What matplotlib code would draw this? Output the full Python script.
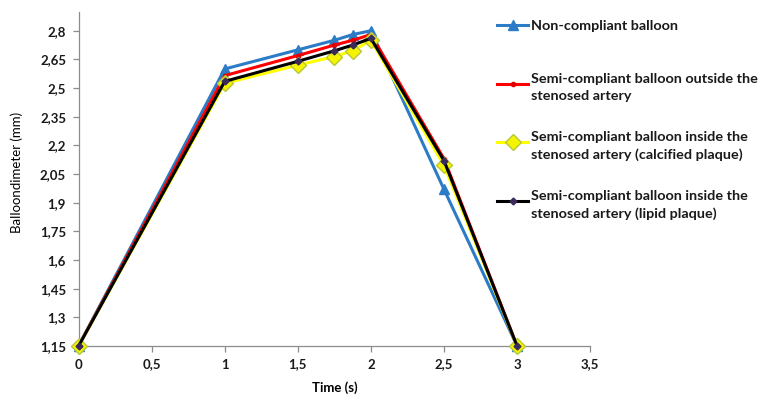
#!/usr/bin/env python3
import matplotlib
matplotlib.use('Agg')
import matplotlib.pyplot as plt
from matplotlib.lines import Line2D
from matplotlib.ticker import FuncFormatter, MultipleLocator


time_s = [0, 1, 1.5, 1.75, 1.875, 2, 2.5, 3]
non_compliant = [1.15, 2.60, 2.70, 2.75, 2.78, 2.80, 1.97, 1.15]
semi_outside = [1.15, 2.565, 2.67, 2.725, 2.75, 2.78, 2.13, 1.15]
semi_calcified = [1.15, 2.525, 2.62, 2.665, 2.695, 2.75, 2.095, 1.15]
semi_lipid = [1.15, 2.535, 2.64, 2.695, 2.725, 2.76, 2.12, 1.15]

labels = [
    'Non-compliant balloon',
    'Semi-compliant balloon outside the\nstenosed artery',
    'Semi-compliant balloon inside the\nstenosed artery (calcified plaque)',
    'Semi-compliant balloon inside the\nstenosed artery (lipid plaque)',
]

plt.rcParams['font.family'] = ['Lato', 'DejaVu Sans']


def comma(v, pos):
    return '{:g}'.format(round(v, 2)).replace('.', ',')


def main():
    fig = plt.figure(figsize=(7.66, 4.01), dpi=100)
    ax = fig.add_axes([0.1025, 0.137, 0.668, 0.834])

    styles = [
        dict(color='#2B7BC6', lw=2.2, marker='^', ms=7.5, mfc='#2B7BC6', mec='#2B7BC6'),
        dict(color='#FF0000', lw=2.2, marker='o', ms=3, mfc='#E00000', mec='#E00000'),
        dict(color='#FFFF00', lw=2.2, marker='D', ms=8, mfc='#F4F400', mec='#B8C83A', mew=1.0),
        dict(color='#000000', lw=2.2, marker='D', ms=3.5, mfc='#3A2A5C', mec='#3A2A5C'),
    ]
    series = [non_compliant, semi_outside, semi_calcified, semi_lipid]

    for i, (ys, st) in enumerate(zip(series, styles)):
        ax.plot(time_s, ys, clip_on=False, zorder=3 + i, **st)

    ax.set_xlim(0, 3.5)
    ax.set_ylim(1.15, 2.9)
    ax.xaxis.set_major_locator(MultipleLocator(0.5))
    ax.set_yticks([1.15 + 0.15 * k for k in range(12)])
    ax.xaxis.set_major_formatter(FuncFormatter(comma))
    ax.yaxis.set_major_formatter(FuncFormatter(comma))

    for s in ['top', 'right']:
        ax.spines[s].set_visible(False)
    for s in ['left', 'bottom']:
        ax.spines[s].set_color('#8c8c8c')
        ax.spines[s].set_linewidth(0.9)
    ax.tick_params(direction='out', length=4, width=0.9, color='#8c8c8c',
                   labelsize=9.5, pad=5, labelcolor='#1a1a1a')
    for lab in ax.get_xticklabels() + ax.get_yticklabels():
        lab.set_fontweight('bold')

    ax.set_xlabel('Time (s)', fontsize=9.5, fontweight='bold', labelpad=8)
    ax.set_ylabel('Balloondimeter (mm)', fontsize=9.5)
    ax.yaxis.set_label_coords(-0.108, 0.52)

    # legend drawn by hand: handle sits on the first text line
    W, H = 766.0, 401.0
    y0, step = 25.0, 58.7
    for i, (lab, st) in enumerate(zip(labels, styles)):
        yf = 1 - (y0 + i * step) / H
        h = Line2D([497 / W, 528 / W], [yf, yf], transform=fig.transFigure,
                   color=st['color'], lw=st['lw'])
        fig.add_artist(h)
        m = Line2D([512.5 / W], [yf], transform=fig.transFigure, linestyle='none',
                   marker=st['marker'], ms=st['ms'], mfc=st['mfc'], mec=st['mec'],
                   mew=st.get('mew', 1.0))
        fig.add_artist(m)
        fig.text(531 / W, yf, lab, fontsize=10.4, fontweight='bold',
                 va='center_baseline', ha='left', linespacing=1.5, color='#1a1a1a')

    fig.savefig('out.png', dpi=100)


if __name__ == '__main__':
    main()
